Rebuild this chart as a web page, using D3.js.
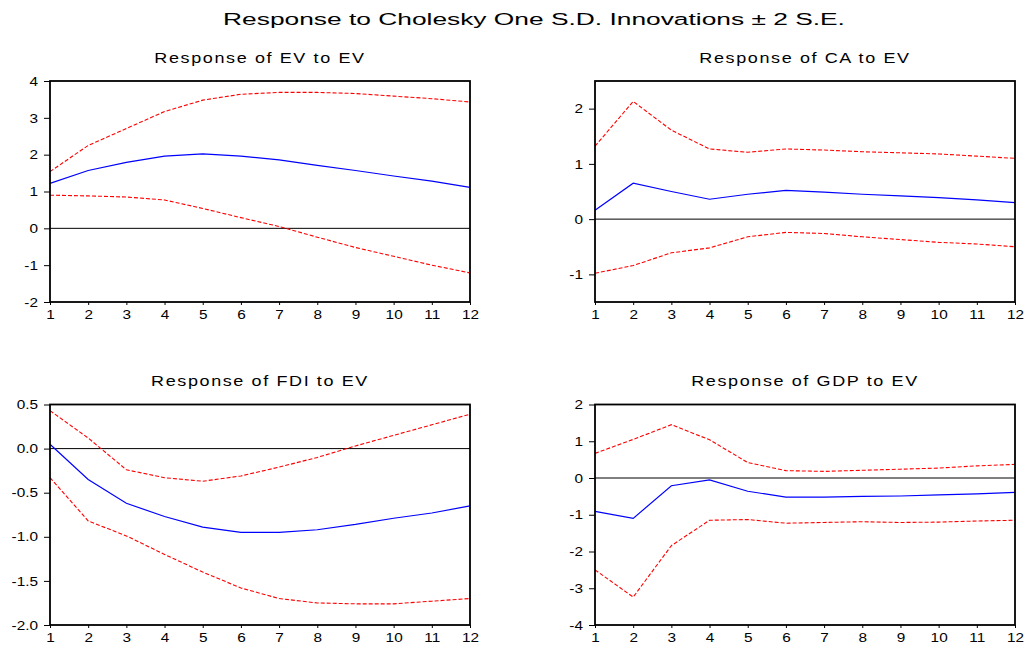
<!DOCTYPE html>
<html>
<head>
<meta charset="utf-8">
<script src="https://cdn.jsdelivr.net/npm/d3@7"></script>
<style>
  body { margin: 0; background: #fff; }
  text { font-family: "Liberation Sans", Arial, sans-serif; fill: #000; }
</style>
</head>
<body>
<svg id="chart" width="1029" height="649"></svg>
<script>
// periods on the x axis
const periods = [1, 2, 3, 4, 5, 6, 7, 8, 9, 10, 11, 12];

// Response of EV to EV
const evMid  = [1.22, 1.57, 1.79, 1.96, 2.02, 1.96, 1.86, 1.71, 1.57, 1.42, 1.28, 1.11];
const evHigh = [1.54, 2.25, 2.71, 3.17, 3.48, 3.64, 3.69, 3.69, 3.66, 3.59, 3.52, 3.43];
const evLow  = [0.90, 0.88, 0.85, 0.77, 0.54, 0.29, 0.05, -0.24, -0.52, -0.76, -1.00, -1.21];

// Response of CA to EV
const caMid  = [0.16, 0.65, 0.50, 0.36, 0.45, 0.52, 0.49, 0.45, 0.42, 0.39, 0.35, 0.30];
const caHigh = [1.32, 2.13, 1.61, 1.27, 1.21, 1.27, 1.25, 1.22, 1.20, 1.18, 1.14, 1.10];
const caLow  = [-0.98, -0.84, -0.61, -0.52, -0.32, -0.24, -0.26, -0.32, -0.37, -0.42, -0.45, -0.50];

// Response of FDI to EV
const fdiMid  = [0.05, -0.35, -0.62, -0.77, -0.89, -0.95, -0.95, -0.92, -0.86, -0.79, -0.73, -0.65];
const fdiHigh = [0.43, 0.12, -0.24, -0.33, -0.37, -0.31, -0.21, -0.10, 0.03, 0.15, 0.27, 0.39];
const fdiLow  = [-0.33, -0.82, -0.99, -1.20, -1.40, -1.58, -1.70, -1.75, -1.76, -1.76, -1.73, -1.70];

// Response of GDP to EV
const gdpMid  = [-0.91, -1.10, -0.21, -0.05, -0.36, -0.52, -0.52, -0.50, -0.49, -0.46, -0.43, -0.39];
const gdpHigh = [0.67, 1.05, 1.45, 1.04, 0.42, 0.20, 0.18, 0.21, 0.24, 0.27, 0.33, 0.37];
const gdpLow  = [-2.50, -3.24, -1.84, -1.15, -1.13, -1.23, -1.21, -1.19, -1.21, -1.20, -1.17, -1.15];

const mainTitle = "Response to Cholesky One S.D. Innovations \u00b1 2 S.E.";

const svg = d3.select("#chart");

// main title (glyphs in the original are stretched wide)
svg.append("text")
  .attr("transform", "translate(534,25) scale(1.55,1)")
  .attr("text-anchor", "middle")
  .style("font-size", "17px")
  .text(mainTitle);

function getConfig() {
  let col = [{left: 50, right: 470}, {left: 595, right: 1015}];
  let row = [{top: 81, bottom: 302, titleY: 63}, {top: 404.5, bottom: 625, titleY: 386}];
  return {col, row};
}

function drawPanel(p, config) {
  let c = config.col[p.col];
  let r = config.row[p.row];

  let xScale = d3.scaleLinear().domain([1, 12]).range([c.left, c.right]);
  let yScale = d3.scaleLinear().domain(p.yDomain).range([r.bottom, r.top]);

  let g = svg.append("g").attr("class", "panel");

  // panel title, wide letter spacing like the EViews output
  g.append("text")
    .attr("transform", "translate(" + ((c.left + c.right) / 2) + "," + r.titleY + ") scale(1.2,1)")
    .attr("text-anchor", "middle")
    .style("font-size", "15px")
    .style("letter-spacing", "1.35px")
    .text(p.title);

  // x axis
  let xAxis = g.append("g")
    .attr("transform", "translate(0," + r.bottom + ")")
    .call(d3.axisBottom(xScale).tickValues(periods).tickSize(3).tickPadding(5).tickFormat(d3.format("d")));
  xAxis.select(".domain").remove();
  xAxis.selectAll("line").attr("stroke", "#000");
  xAxis.selectAll("text")
    .style("font-size", "13px")
    .attr("transform", "scale(1.18,1)");

  // y axis
  let yAxis = g.append("g")
    .attr("transform", "translate(" + c.left + ",0)")
    .call(d3.axisLeft(yScale).tickValues(p.yTicks).tickSize(6).tickPadding(6).tickFormat(p.fmt));
  yAxis.select(".domain").remove();
  yAxis.selectAll("line").attr("stroke", "#000");
  yAxis.selectAll("text")
    .style("font-size", "13px")
    .attr("x", 0)
    .attr("transform", "translate(-12,0) scale(1.18,1)");

  // zero line
  g.append("line")
    .attr("x1", xScale(1)).attr("x2", xScale(12))
    .attr("y1", yScale(0)).attr("y2", yScale(0))
    .attr("stroke", "#000").attr("stroke-width", 1);

  let line = d3.line()
    .x((d, i) => xScale(periods[i]))
    .y(d => yScale(d));

  // +/- 2 S.E. bands
  [p.hi, p.lo].forEach(s => {
    g.append("path")
      .datum(s)
      .attr("d", line)
      .attr("fill", "none")
      .attr("stroke", "#ff0000")
      .attr("stroke-width", 1.1)
      .attr("stroke-dasharray", "4,2");
  });

  // response
  g.append("path")
    .datum(p.mid)
    .attr("d", line)
    .attr("fill", "none")
    .attr("stroke", "#0000ff")
    .attr("stroke-width", 1.2);

  // frame
  g.append("rect")
    .attr("x", c.left).attr("y", r.top)
    .attr("width", c.right - c.left).attr("height", r.bottom - r.top)
    .attr("fill", "none")
    .attr("stroke", "#000")
    .attr("stroke-width", 1.8);
}

let config = getConfig();
let intFmt = d => d.toFixed(0);
let decFmt = d => d.toFixed(1);

drawPanel({title: "Response of EV to EV", col: 0, row: 0, yDomain: [-2, 4],
  yTicks: [-2, -1, 0, 1, 2, 3, 4], fmt: intFmt, mid: evMid, hi: evHigh, lo: evLow}, config);
drawPanel({title: "Response of CA to EV", col: 1, row: 0, yDomain: [-1.5, 2.5],
  yTicks: [-1, 0, 1, 2], fmt: intFmt, mid: caMid, hi: caHigh, lo: caLow}, config);
drawPanel({title: "Response of FDI to EV", col: 0, row: 1, yDomain: [-2, 0.5],
  yTicks: [-2, -1.5, -1, -0.5, 0, 0.5], fmt: decFmt, mid: fdiMid, hi: fdiHigh, lo: fdiLow}, config);
drawPanel({title: "Response of GDP to EV", col: 1, row: 1, yDomain: [-4, 2],
  yTicks: [-4, -3, -2, -1, 0, 1, 2], fmt: intFmt, mid: gdpMid, hi: gdpHigh, lo: gdpLow}, config);
</script>
</body>
</html>
